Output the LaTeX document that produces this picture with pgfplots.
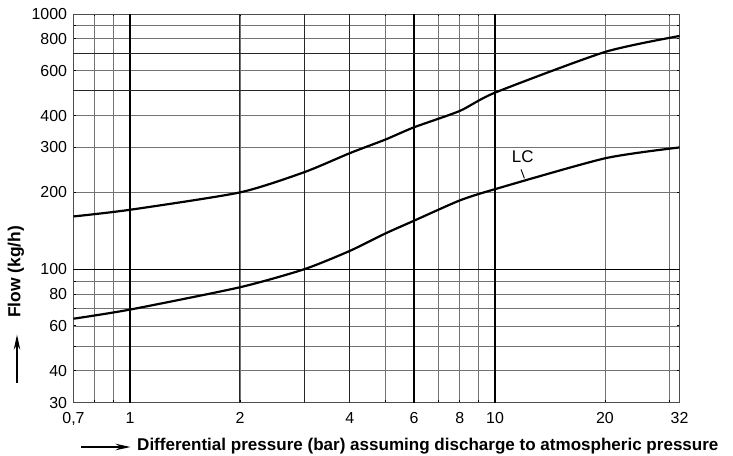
\documentclass[border=0pt]{standalone}
\usepackage{fontspec}
\setmainfont{Liberation Sans}
\usepackage{pgfplots}
\pgfplotsset{compat=1.18}
\usetikzlibrary{arrows.meta}
\begin{document}
\begin{tikzpicture}
\begin{axis}[
  at={(0,0)}, anchor=south west,
  xmode=log, ymode=log,
  scale only axis, width=606bp, height=388.7bp,
  xmin=0.7, xmax=32, ymin=30, ymax=1000,
  xtick={0.7,0.8,0.9,1,2,3,4,5,6,7,8,9,10,20,30,32},
  xticklabels={{0,7},{},{},1,2,{},4,{},6,{},8,{},10,20,{},32},
  ytick={30,40,50,60,70,80,90,100,200,300,400,500,600,700,800,900,1000},
  yticklabels={30,40,{},60,{},80,{},100,200,300,400,{},600,{},800,{},1000},
  grid=major,
  major grid style={black!55, line width=0.7pt},
  axis line style={black!70, line width=0.8pt},
  tick align=inside, major tick length=2.5pt,
  tick style={black, line width=0.8pt},
  ticklabel style={font=\fontsize{16}{16}\selectfont},
  /pgf/number format/assume math mode=true,
  xticklabel style={yshift=-6pt},
  yticklabel style={xshift=-3pt},
]
% heavier grid lines
\draw[black, line width=1.3pt] (axis cs:1,30) -- (axis cs:1,1000);
\draw[black, line width=1.3pt] (axis cs:6,30) -- (axis cs:6,1000);
\draw[black, line width=1.4pt] (axis cs:10,30) -- (axis cs:10,1000);
\draw[black!85, line width=0.9pt] (axis cs:2,30) -- (axis cs:2,1000);
\draw[black!85, line width=0.9pt] (axis cs:3,30) -- (axis cs:3,1000);
\draw[black!85, line width=0.9pt] (axis cs:4,30) -- (axis cs:4,1000);
\draw[black, line width=1.3pt] (axis cs:0.7,100) -- (axis cs:32,100);
\draw[black!85, line width=1.0pt] (axis cs:0.7,500) -- (axis cs:32,500);
\draw[black!85, line width=1.0pt] (axis cs:0.7,700) -- (axis cs:32,700);
% curves
\addplot[black, line width=2.2pt, smooth, tension=0.4] coordinates {
  (0.7,161) (1,171) (2,200) (3,240) (4,285) (5,322) (6,360) (8,417) (10,492) (20,710) (32,820)
};
\addplot[black, line width=2.2pt, smooth, tension=0.4] coordinates {
  (0.7,64) (1,69.5) (2,85) (3,100) (4,118) (5,138) (6,155) (8,186) (10,206) (20,272) (32,300)
};
\node[font=\fontsize{17}{17}\selectfont, inner sep=0pt] at (axis cs:11.9,275) {LC};
\draw[black, line width=0.9pt] (axis cs:11.78,246) -- (axis cs:12.03,227);
\end{axis}
% axis titles with arrows
\node[rotate=90, font=\fontsize{17.5}{17.5}\selectfont\bfseries, inner sep=0pt] at (-57.5bp,130.7bp) {Flow (kg/h)};
\draw[line width=1.4pt, -{Stealth[length=15pt, width=6.5pt]}] (-56.5bp,19.7bp) -- (-56.5bp,68bp);
\draw[line width=1.4pt, -{Stealth[length=15pt, width=6.5pt]}] (7.5bp,-44.3bp) -- (57bp,-44.3bp);
\node[anchor=west, font=\fontsize{17.1}{17.1}\selectfont\bfseries, inner sep=0pt] at (63.5bp,-43bp) {Differential pressure (bar) assuming discharge to atmospheric pressure};
\pgfresetboundingbox
\path (-73.5bp,-53.3bp) rectangle (659.5bp,402.7bp);
\end{tikzpicture}
\end{document}
